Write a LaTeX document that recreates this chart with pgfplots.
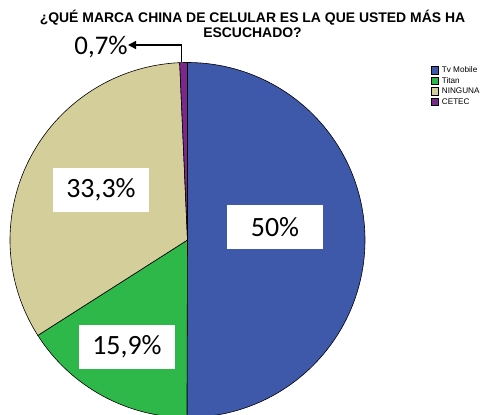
\documentclass[border=0pt]{standalone}
\usepackage{pgfplots}
\usepackage{pgfplotstable}
\pgfplotsset{compat=1.18}
\usetikzlibrary{arrows.meta}
\usepackage{fontspec}
\setmainfont{Liberation Sans}
\newfontfamily\carlito{Carlito}
\definecolor{cblue}{RGB}{62,88,170}
\definecolor{cgreen}{RGB}{46,184,74}
\definecolor{ctan}{RGB}{211,206,154}
\definecolor{cpurple}{RGB}{122,40,140}
\pgfplotstableread{
label share
TvMobile 50
Titan 15.9
NINGUNA 33.3
CETEC 0.7
}\piedata
\begin{document}
\begin{tikzpicture}
\pgfplotstablegetelem{0}{share}\of\piedata \let\sA\pgfplotsretval
\pgfplotstablegetelem{1}{share}\of\piedata \let\sB\pgfplotsretval
\pgfplotstablegetelem{2}{share}\of\piedata \let\sC\pgfplotsretval
\pgfplotstablegetelem{3}{share}\of\piedata \let\sD\pgfplotsretval
\pgfmathsetmacro\tot{\sA+\sB+\sC+\sD}
\pgfmathsetmacro\aA{90}
\pgfmathsetmacro\aB{\aA-360*(\sA/\tot)}
\pgfmathsetmacro\aC{\aB-360*(\sB/\tot)}
\pgfmathsetmacro\aD{\aC-360*(\sC/\tot)}
\pgfmathsetmacro\aE{\aD-360*(\sD/\tot)}
\begin{axis}[
  name=ax,
  scale only axis, width=483bp, height=415bp,
  xmin=0, xmax=483, ymin=0, ymax=415,
  hide axis, clip=true,
  area legend,
  legend image code/.code={\draw[#1, draw=black, line width=0.3pt] (0bp,-3.75bp) rectangle (7.5bp,3.75bp); \path (10bp,0bp);},
  legend style={at={(axis cs:430.5,350.3)}, anchor=north west, draw=none, fill=none,
    font=\fontsize{8.2}{10.5}\selectfont, inner sep=0pt, row sep=0pt,
    nodes={inner sep=0.75bp, text height=7bp, text depth=2bp},
    cells={anchor=west}},
]
\addplot[fill=cblue, draw=black, line width=0.6pt, domain=\aB:\aA, samples=120, variable=\t]
  ({187.5+177.5*cos(t)},{175+177.5*sin(t)}) -- (axis cs:187.5,175) -- cycle;
\addlegendentry{Tv Mobile}
\addplot[fill=cgreen, draw=black, line width=0.6pt, domain=\aC:\aB, samples=60, variable=\t]
  ({187.5+177.5*cos(t)},{175+177.5*sin(t)}) -- (axis cs:187.5,175) -- cycle;
\addlegendentry{Titan}
\addplot[fill=ctan, draw=black, line width=0.6pt, domain=\aD:\aC, samples=100, variable=\t]
  ({187.5+177.5*cos(t)},{175+177.5*sin(t)}) -- (axis cs:187.5,175) -- cycle;
\addlegendentry{NINGUNA}
\addplot[fill=cpurple, draw=black, line width=0.6pt, domain=\aE:\aD, samples=5, variable=\t]
  ({187.5+177.5*cos(t)},{175+177.5*sin(t)}) -- (axis cs:187.5,175) -- cycle;
\addlegendentry{CETEC}
\node[fill=white, minimum width=96bp, minimum height=44bp, inner sep=0pt, font=\carlito\fontsize{28}{28}\selectfont] at (axis cs:275,188) {50\%};
\node[fill=white, minimum width=96bp, minimum height=44bp, inner sep=0pt, font=\carlito\fontsize{28}{28}\selectfont] at (axis cs:101,225) {33,3\%};
\node[fill=white, minimum width=96bp, minimum height=44bp, inner sep=0pt, font=\carlito\fontsize{28}{28}\selectfont] at (axis cs:127,68) {15,9\%};
\node[font=\carlito\fontsize{27}{27}\selectfont, inner sep=0pt, anchor=base] at (axis cs:101,360) {0,7\%};
\draw[line width=1.4pt, -{Triangle[length=8bp, width=8bp]}] (axis cs:181.5,353) -- (axis cs:181.5,370) -- (axis cs:128,370);
\node[font=\bfseries\fontsize{14}{14}\selectfont, inner sep=0pt, anchor=base] at (axis cs:252.5,392)
  {¿QUÉ MARCA CHINA DE CELULAR ES LA QUE USTED MÁS HA};
\node[font=\bfseries\fontsize{14}{14}\selectfont, inner sep=0pt, anchor=base] at (axis cs:252.5,377.5)
  {ESCUCHADO?};
\end{axis}
\pgfresetboundingbox
\path[use as bounding box] (ax.south west) rectangle (ax.north east);
\end{tikzpicture}
\end{document}
